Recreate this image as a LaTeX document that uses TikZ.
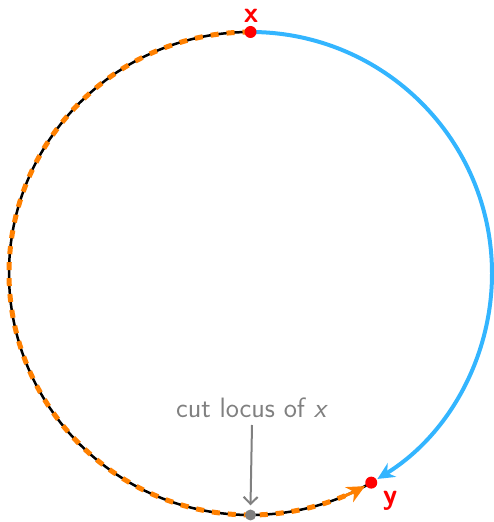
\documentclass[tikz,border=0pt]{standalone}
\usetikzlibrary{arrows.meta,calc}
\definecolor{skyblue}{RGB}{51,181,255}
\definecolor{orng}{RGB}{255,128,0}
\definecolor{ptred}{RGB}{255,0,0}
\definecolor{greyc}{RGB}{128,128,128}
\begin{document}
\begin{tikzpicture}[x=1pt,y=1pt,
  geod/.style={line width=4pt,skyblue},
  blackarc/.style={line width=2.5pt,black},
  orngdash/.style={line width=5pt,orng,dash pattern=on 8pt off 8pt},
  ptdot/.style={circle,fill=ptred,inner sep=0pt,minimum size=12pt},
  greydot/.style={circle,fill=greyc,inner sep=0pt,minimum size=11pt},
  ptlabel/.style={text=ptred,inner sep=0pt,anchor=base,font=\sffamily\bfseries\fontsize{29}{33}\selectfont},
  cutlabel/.style={text=greyc,inner sep=0pt,font=\sffamily\fontsize{28}{32}\selectfont}]
\useasboundingbox (0,0) rectangle (494,522);
\def\R{241.5}
\coordinate (c) at (250.5,248.5);
\path (c) ++(90:\R) coordinate (x);
\path (c) ++(-60:\R) coordinate (y);
\path (c) ++(-90:\R) coordinate (cut);
% black geodesic with orange dashes
\draw[blackarc] (x) arc[start angle=90,end angle=300,radius=\R];
\draw[orngdash] (x) arc[start angle=90,end angle=295,radius=\R];
\path (c) ++(292:\R) coordinate (oa);
\draw[line width=3pt,orng,-{Stealth[length=18pt,width=17pt]}] (oa) arc[start angle=292,end angle=298.3,radius=\R];
% blue geodesic
\draw[geod,-{Stealth[length=17pt,width=16pt]}] (x) arc[start angle=90,end angle=-58.3,radius=\R];
% points
\node[ptdot] (xn) at (x) {};
\node[ptdot] (yn) at (y) {};
\node[greydot] (cn) at (cut) {};
\node[ptlabel] (xl) at (251,499.5) {x};
\node[ptlabel] (yl) at (390,17) {y};
\node[cutlabel] (cl) at (252,114) {cut locus of \textit{x}};
\draw[greyc,line width=2pt,-{Straight Barb[length=7pt,width=14pt]}] (252,97) -- ($(cn.north)+(0,4)$);
\end{tikzpicture}
\end{document}
